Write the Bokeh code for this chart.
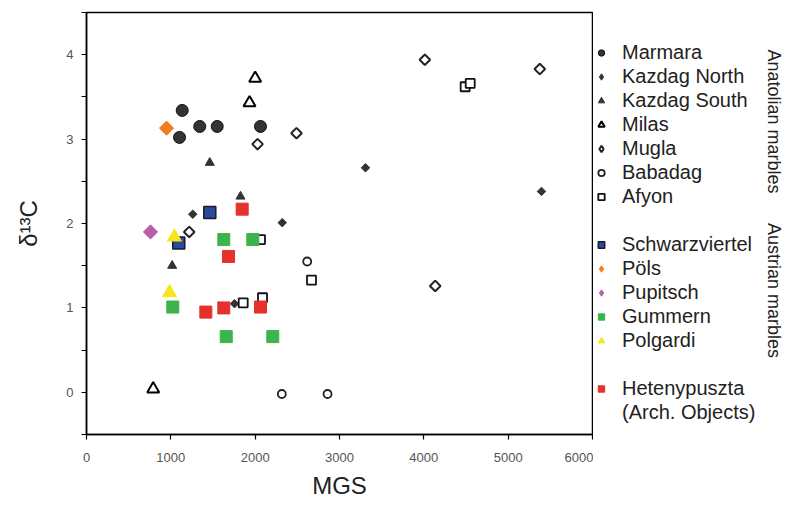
from bokeh.plotting import figure
from bokeh.models import Legend, LegendItem, Label, FixedTicker, Range1d
from bokeh.layouts import row
from bokeh.embed import file_html
from bokeh.resources import INLINE
import math

# ---- data (MGS, delta13C) ----
marmara_x = [1135, 1103, 1343, 1550, 2063]
marmara_y = [3.34, 3.02, 3.15, 3.15, 3.15]
kazN_x = [1260, 2321, 1755, 3308, 5395]
kazN_y = [2.11, 2.01, 1.05, 2.66, 2.38]
kazS_x = [1462, 1826, 1016]
kazS_y = [2.72, 2.32, 1.50]
milas_x = [2000, 1933, 791]
milas_y = [3.72, 3.43, 0.04]
mugla_x = [2490, 2028, 4012, 5375, 1218, 4135]
mugla_y = [3.07, 2.94, 3.94, 3.83, 1.90, 1.26]
babadag_x = [2617, 2316, 2858]
babadag_y = [1.55, -0.02, -0.02]
afyon_x = [4490, 4550, 2063, 2668, 1858, 2087]
afyon_y = [3.62, 3.66, 1.81, 1.33, 1.06, 1.12]
schw_x = [1462, 1094]
schw_y = [2.13, 1.77]
pols_x = [949]
pols_y = [3.13]
pupitsch_x = [759]
pupitsch_y = [1.90]
gummern_x = [1628, 1972, 1023, 1657, 2209]
gummern_y = [1.81, 1.81, 1.01, 0.66, 0.66]
polgardi_x = [1043, 984]
polgardi_y = [1.84, 1.18]
heten_x = [1846, 1684, 1415, 1628, 2063]
heten_y = [2.17, 1.61, 0.95, 1.00, 1.01]

anatolian = ["Marmara", "Kazdag North", "Kazdag South", "Milas", "Mugla", "Babadag", "Afyon"]
austrian = ["Schwarzviertel", "Pöls", "Pupitsch", "Gummern", "Polgardi"]
arch = ["Hetenypuszta"]
arch_note = "(Arch. Objects)"
group_titles = ["Anatolian marbles", "Austrian marbles"]

x_ticks = [0, 1000, 2000, 3000, 4000, 5000, 6000]
y_ticks = [-0.5, 0, 0.5, 1, 1.5, 2, 2.5, 3, 3.5, 4, 4.5]

FONT = "Liberation Sans"
TXT = "#222222"

p = figure(width=593, height=509, output_backend="svg", toolbar_location=None,
           title=None, x_range=Range1d(0, 6000), y_range=Range1d(-0.5, 4.5),
           min_border_left=86, min_border_right=1, min_border_top=12, min_border_bottom=75)
p.grid.visible = False
p.outline_line_color = "black"
p.outline_line_width = 1.5

for ax in (p.xaxis[0], p.yaxis[0]):
    ax.axis_line_color = "black"
    ax.axis_line_width = 1.5
    ax.major_tick_line_color = "black"
    ax.major_tick_line_width = 1.2
    ax.major_tick_in = 0
    ax.major_tick_out = 5
    ax.minor_tick_line_color = None
    ax.major_label_text_font = FONT
    ax.major_label_text_font_size = "13px"
    ax.major_label_text_color = "#555555"
    ax.axis_label_text_font = FONT
    ax.axis_label_text_font_size = "24px"
    ax.axis_label_text_font_style = "normal"
    ax.axis_label_text_color = TXT

p.xaxis.ticker = FixedTicker(ticks=x_ticks)
p.yaxis.ticker = FixedTicker(ticks=y_ticks)
p.yaxis.major_label_overrides = {t: ("" if t != int(t) or t < 0 else str(int(t))) for t in y_ticks}
p.xaxis.major_label_standoff = 13
p.yaxis.major_label_standoff = 8
p.xaxis.axis_label = "MGS"
p.yaxis.axis_label = "δ¹³C"
p.xaxis.axis_label_standoff = 7
p.yaxis.axis_label_standoff = 21

dark = "#333333"
Q = math.pi / 4
styles = {
    "Marmara": dict(marker="circle", size=12, fill_color=dark, line_color="#111111", line_width=1),
    "Kazdag North": dict(marker="square", angle=Q, size=6, fill_color=dark, line_color=dark),
    "Kazdag South": dict(marker="triangle", size=9, fill_color=dark, line_color=dark),
    "Milas": dict(marker="triangle", size=12, fill_color="white", line_color="black", line_width=2),
    "Mugla": dict(marker="square", angle=Q, size=7.5, fill_color="white", line_color="#222222", line_width=2),
    "Babadag": dict(marker="circle", size=8, fill_color="white", line_color="#222222", line_width=1.8),
    "Afyon": dict(marker="square", size=9, fill_color="white", line_color="#111111", line_width=1.8),
    "Schwarzviertel": dict(marker="square", size=12, fill_color="#2a4b9b", line_color="#1a1a2a", line_width=1.5),
    "Pöls": dict(marker="square", angle=Q, size=10, fill_color="#f07d1e", line_color="#f07d1e"),
    "Pupitsch": dict(marker="square", angle=Q, size=10, fill_color="#b85ea6", line_color="#b85ea6"),
    "Gummern": dict(marker="square", size=12, fill_color="#3cb44b", line_color="#3cb44b"),
    "Polgardi": dict(marker="triangle", size=14, fill_color="#f5e61c", line_color="#f5e61c"),
    "Hetenypuszta": dict(marker="square", size=12, fill_color="#e5302b", line_color="#e5302b"),
}
series = {
    "Marmara": (marmara_x, marmara_y), "Kazdag North": (kazN_x, kazN_y),
    "Kazdag South": (kazS_x, kazS_y), "Milas": (milas_x, milas_y),
    "Mugla": (mugla_x, mugla_y), "Babadag": (babadag_x, babadag_y),
    "Afyon": (afyon_x, afyon_y), "Schwarzviertel": (schw_x, schw_y),
    "Pöls": (pols_x, pols_y), "Pupitsch": (pupitsch_x, pupitsch_y),
    "Gummern": (gummern_x, gummern_y), "Polgardi": (polgardi_x, polgardi_y),
    "Hetenypuszta": (heten_x, heten_y),
}
for name, (xs, ys) in series.items():
    p.scatter(xs, ys, **styles[name])

# ---- legend / group-title panel ----
tp = figure(width=194, height=509, output_backend="svg", toolbar_location=None, title=None,
            x_axis_type=None, y_axis_type=None, x_range=Range1d(0, 6000), y_range=Range1d(-0.5, 4.5),
            min_border_left=0, min_border_right=0, min_border_top=12, min_border_bottom=75)
tp.grid.visible = False
tp.outline_line_color = None

# hidden renderers that only provide the legend swatches
leg_r = {}
for name, (xs, ys) in series.items():
    st = dict(styles[name])
    if st.get("angle") is not None:
        st.pop("angle")
        st["marker"] = "diamond"
    leg_r[name] = tp.scatter(xs, ys, visible=False, **st)
blank = tp.scatter([], [], marker="circle", size=1, fill_alpha=0, line_alpha=0)

items = [LegendItem(label=n, renderers=[leg_r[n]]) for n in anatolian]
items.append(LegendItem(label=" ", renderers=[blank]))
items += [LegendItem(label=n, renderers=[leg_r[n]]) for n in austrian]
items.append(LegendItem(label=" ", renderers=[blank]))
items += [LegendItem(label=n, renderers=[leg_r[n]]) for n in arch]
items.append(LegendItem(label=arch_note, renderers=[blank]))

legend = Legend(items=items, location=(0, 10), padding=0, margin=0, spacing=1, label_height=23,
                glyph_width=16, glyph_height=23, label_standoff=13, border_line_alpha=0,
                background_fill_alpha=0, inactive_fill_alpha=0,
                label_text_font=FONT, label_text_font_size="20px", label_text_color=TXT)
tp.add_layout(legend, "center")

for txt, yy in zip(group_titles, [313, 144]):
    tp.add_layout(Label(x=180, y=yy, x_units="screen", y_units="screen", text=txt,
                        angle=-math.pi / 2, text_font=FONT, text_font_size="18px", text_color=TXT,
                        text_baseline="middle", text_align="center"))

layout = row(p, tp)
open("out.html", "w").write(file_html(layout, INLINE))
